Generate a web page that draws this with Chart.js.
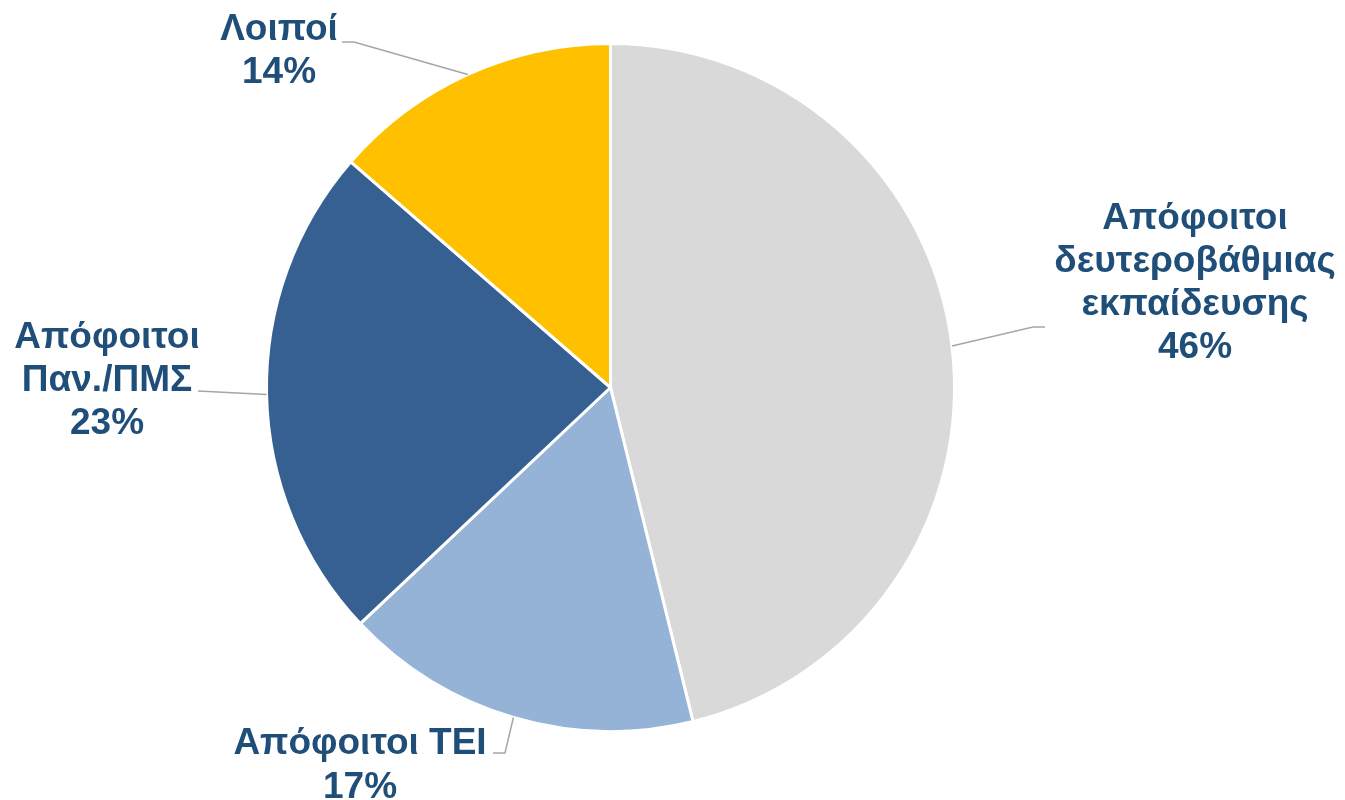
<!DOCTYPE html>
<html>
<head>
<meta charset="utf-8">
<script src="https://cdn.jsdelivr.net/npm/chart.js@4"></script>
<style>
  html, body { margin: 0; padding: 0; background: #ffffff; }
  #wrap { width: 1345px; height: 800px; position: relative; }
</style>
</head>
<body>
<div id="wrap"><canvas id="c" width="1345" height="800"></canvas></div>
<script>
// Data
const categories = [
  ["Απόφοιτοι", "δευτεροβάθμιας", "εκπαίδευσης"],
  ["Απόφοιτοι ΤΕΙ"],
  ["Απόφοιτοι", "Παν./ΠΜΣ"],
  ["Λοιποί"]
];
const shares = [46.1, 16.8, 23.4, 13.6];

// Styles / layout (not data)
const sliceColors = ["#D9D9D9", "#95B3D7", "#376092", "#FFC000"];
const labelColor = "#1F4E79";
const leaderColor = "#A6A6A6";
const labelLayout = [
  { cx: 1195, y0: 219, lh: 43, elbow: [1033, 327], end: [1045, 327] },
  { cx: 360,  y0: 744, lh: 44, elbow: [505, 753],  end: [493, 753] },
  { cx: 107,  y0: 338, lh: 43, elbow: [198, 391],  end: [198, 391] },
  { cx: 279,  y0: 30,  lh: 43, elbow: [354, 42],   end: [342, 42] }
];

const total = shares.reduce((a, b) => a + b, 0);

const labelPlugin = {
  id: 'pieLabels',
  afterDraw(chart) {
    const ctx = chart.ctx;
    const meta = chart.getDatasetMeta(0);
    meta.data.forEach((arc, i) => {
      const L = labelLayout[i];
      const mid = (arc.startAngle + arc.endAngle) / 2;
      const px = arc.x + Math.cos(mid) * arc.outerRadius;
      const py = arc.y + Math.sin(mid) * arc.outerRadius;
      ctx.save();
      ctx.strokeStyle = leaderColor;
      ctx.lineWidth = 1.5;
      ctx.beginPath();
      ctx.moveTo(px, py);
      ctx.lineTo(L.elbow[0], L.elbow[1]);
      ctx.lineTo(L.end[0], L.end[1]);
      ctx.stroke();
      const lines = categories[i].concat([Math.round(shares[i] / total * 100) + "%"]);
      ctx.fillStyle = labelColor;
      ctx.font = "bold 37px 'Liberation Sans', Arial, sans-serif";
      ctx.textAlign = "center";
      ctx.textBaseline = "middle";
      lines.forEach((t, k) => ctx.fillText(t, L.cx, L.y0 + k * L.lh));
      ctx.restore();
    });
  }
};

new Chart(document.getElementById('c'), {
  type: 'pie',
  data: {
    labels: categories.map(c => c.join(' ')),
    datasets: [{
      data: shares,
      backgroundColor: sliceColors,
      borderColor: "#ffffff",
      borderWidth: 3
    }]
  },
  options: {
    responsive: false,
    animation: false,
    rotation: 0,
    layout: { padding: { left: 265, right: 389, top: 42, bottom: 67 } },
    plugins: {
      legend: { display: false },
      tooltip: { enabled: false }
    }
  },
  plugins: [labelPlugin]
});
</script>
</body>
</html>
